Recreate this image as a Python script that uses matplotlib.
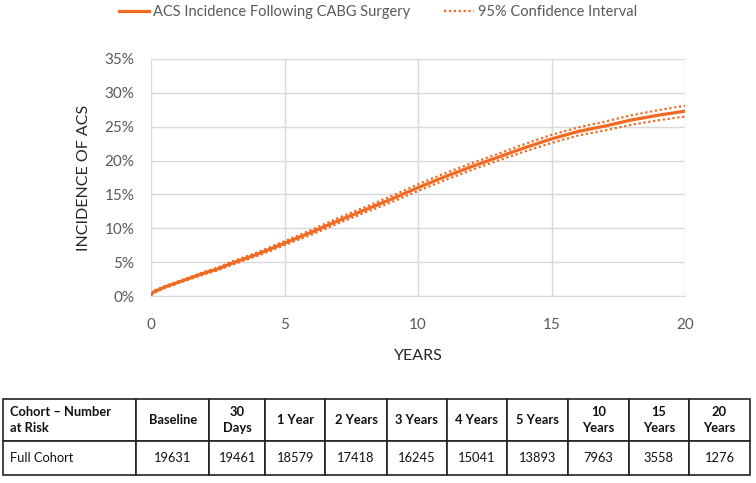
import matplotlib
matplotlib.use("Agg")
import matplotlib.pyplot as plt
from matplotlib.lines import Line2D

plt.rcParams['font.family'] = ['Lato', 'DejaVu Sans']

years = [0, 0.1, 0.5, 1, 1.5, 2, 2.5, 3, 3.5, 4, 4.5, 5, 6, 7, 8, 9, 10,
         11, 12, 13, 14, 15, 16, 17, 18, 19, 20]
incidence = [0.2, 0.6, 1.3, 2.0, 2.7, 3.4, 4.0, 4.8, 5.5, 6.2, 7.0, 7.8, 9.4,
             11.1, 12.7, 14.3, 16.0, 17.6, 19.1, 20.5, 21.9, 23.2, 24.3, 25.1,
             26.0, 26.7, 27.3]
ci_lower = [0.1, 0.45, 1.15, 1.85, 2.55, 3.2, 3.8, 4.55, 5.25, 5.95, 6.7, 7.5,
            9.05, 10.7, 12.3, 13.85, 15.5, 17.1, 18.6, 20.0, 21.35, 22.6, 23.7,
            24.45, 25.3, 25.95, 26.5]
ci_upper = [0.3, 0.75, 1.45, 2.15, 2.85, 3.6, 4.2, 5.05, 5.75, 6.45, 7.3, 8.1,
            9.75, 11.5, 13.1, 14.75, 16.5, 18.1, 19.6, 21.0, 22.45, 23.8, 24.9,
            25.75, 26.7, 27.45, 28.1]

y_ticks = [0, 5, 10, 15, 20, 25, 30, 35]
x_ticks = [0, 5, 10, 15, 20]

table_header = ["Cohort \u2013 Number\nat Risk", "Baseline", "30\nDays", "1 Year",
                "2 Years", "3 Years", "4 Years", "5 Years", "10\nYears",
                "15\nYears", "20\nYears"]
table_row = ["Full Cohort", "19631", "19461", "18579", "17418", "16245",
             "15041", "13893", "7963", "3558", "1276"]

orange = '#F26A21'
grey_text = '#595959'

W, H = 756, 483
fig = plt.figure(figsize=(W / 100, H / 100), dpi=100)
ax = fig.add_axes([151 / W, 1 - 296 / H, (685 - 151) / W, (296 - 59) / H])

ax.plot(years, incidence, color=orange, lw=2.3, solid_capstyle='round')
ax.plot(years, ci_lower, color=orange, lw=1.6, ls=(0, (1, 1.2)))
ax.plot(years, ci_upper, color=orange, lw=1.6, ls=(0, (1, 1.2)))

ax.set_xlim(0, 20)
ax.set_ylim(0, 35)
ax.set_xticks(x_ticks)
ax.set_yticks(y_ticks)
ax.set_yticklabels([f"{v}%" for v in y_ticks])
ax.grid(True, color='#D9D9D9', lw=1)
ax.set_axisbelow(True)
for s in ['top', 'right', 'left']:
    ax.spines[s].set_visible(False)
ax.spines['bottom'].set_color('#D9D9D9')
ax.tick_params(length=0, labelsize=11, colors=grey_text)
ax.tick_params(axis='x', pad=16)
ax.tick_params(axis='y', pad=12)
ax.set_xlabel("YEARS", fontsize=11.5, color='#262626', labelpad=12)
ax.set_ylabel("INCIDENCE OF ACS", fontsize=11.5, color='#262626', labelpad=10)

handles = [Line2D([], [], color=orange, lw=2.3),
           Line2D([], [], color=orange, lw=1.6, ls=(0, (1, 1.2)))]
fig.legend(handles, ["ACS Incidence Following CABG Surgery", "95% Confidence Interval"],
           loc='center', bbox_to_anchor=(378 / W, 1 - 12 / H), ncol=2, frameon=False,
           fontsize=10.5, labelcolor=grey_text, handlelength=2.05,
           handletextpad=0.3, columnspacing=2.3, borderpad=0, borderaxespad=0)

# table
tax = fig.add_axes([3 / W, 1 - 475 / H, (750 - 3) / W, (475 - 399) / H])
tax.axis('off')
col_px = [133, 73, 56, 60, 61, 60, 60, 61, 61, 60, 61]
tot = sum(col_px)
widths = [c / tot for c in col_px]
tbl = tax.table(cellText=[table_header, table_row], colWidths=widths,
                bbox=[0, 0, 1, 1], cellLoc='center')
tbl.auto_set_font_size(False)
row_h = [42 / 76, 34 / 76]
for (r, c), cell in tbl.get_celld().items():
    cell.set_height(row_h[r])
    cell.set_linewidth(1.2)
    cell.set_edgecolor('#222222')
    t = cell.get_text()
    t.set_fontsize(9.3)
    t.set_color('#111111')
    t.set_linespacing(1.3)
    if r == 0:
        t.set_fontweight('bold')
    if c == 0:
        t.set_ha('left')
        cell.PAD = 0.05
        cell._loc = 'left'

fig.savefig("out.png", dpi=100)
